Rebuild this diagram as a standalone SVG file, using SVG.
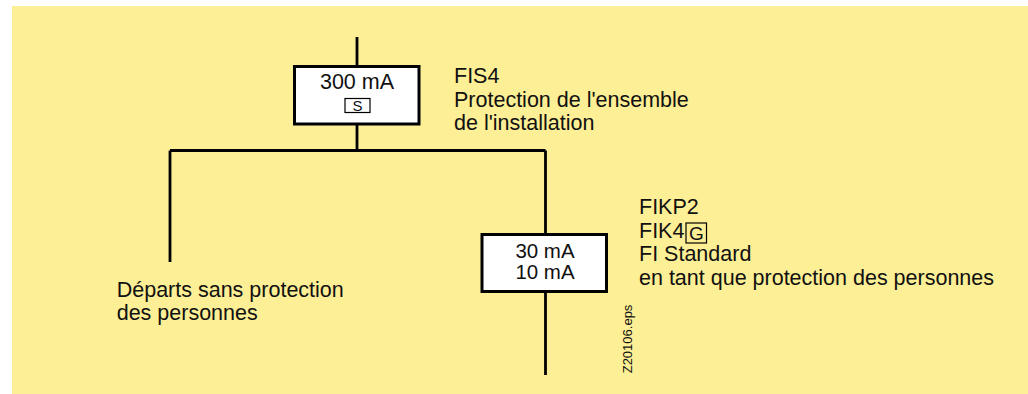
<svg xmlns="http://www.w3.org/2000/svg" width="1028" height="394" viewBox="0 0 1028 394">
<style>
.t{font-family:"Liberation Sans",Arial,sans-serif;font-size:21.5px;fill:#111;}
.b{font-size:20.5px;}
.w{stroke:#000;stroke-width:2.8;fill:none;}
.box{fill:#fff;stroke:#000;stroke-width:3;}
.sm{fill:#fff;stroke:#000;stroke-width:1.2;}
.tb{fill:none;stroke:#000;stroke-width:1.2;}
</style>
<rect x="0" y="0" width="1028" height="394" fill="#fff"/>
<rect x="12" y="6" width="1016" height="388" fill="#fdef95"/>
<g id="connectors">
<path class="w" d="M357 37V66M357 124V150.5M170 150.5H545.5M170 150.5V262M545.5 150.5V234M545.5 292V375"/>
</g>
<g id="node-fis4">
<rect class="box" x="294.5" y="66.5" width="124.5" height="57.5"/>
<text class="t" x="357" y="89" text-anchor="middle">300 mA</text>
<rect class="sm" x="345" y="98.5" width="25" height="14"/>
<text class="t" x="357.5" y="110.5" text-anchor="middle" style="font-size:15px">S</text>
</g>
<g id="label-fis4">
<text class="t" x="454" y="82.7">FIS4</text>
<text class="t" x="454" y="106.5">Protection de l'ensemble</text>
<text class="t" x="454" y="130.2">de l'installation</text>
</g>
<g id="node-fikp2">
<rect class="box" x="482" y="234.5" width="124.5" height="57"/>
<text class="t b" x="545" y="257.5" text-anchor="middle">30 mA</text>
<text class="t b" x="545" y="278.5" text-anchor="middle">10 mA</text>
</g>
<g id="label-fikp2">
<text class="t" x="639" y="214">FIKP2</text>
<text class="t" x="639" y="237.7">FIK4</text>
<rect class="tb" x="686" y="223" width="20.5" height="20"/>
<text class="t" x="696.3" y="239.5" text-anchor="middle" style="font-size:19px">G</text>
<text class="t" x="639" y="261.4">FI Standard</text>
<text class="t" x="639" y="285.1">en tant que protection des personnes</text>
</g>
<g id="label-departs">
<text class="t" x="116.7" y="296.7">Départs sans protection</text>
<text class="t" x="116.7" y="319.5">des personnes</text>
</g>
<text class="t" transform="translate(632.3 373.3) rotate(-90)" style="font-size:13px">Z20106.eps</text>
</svg>
